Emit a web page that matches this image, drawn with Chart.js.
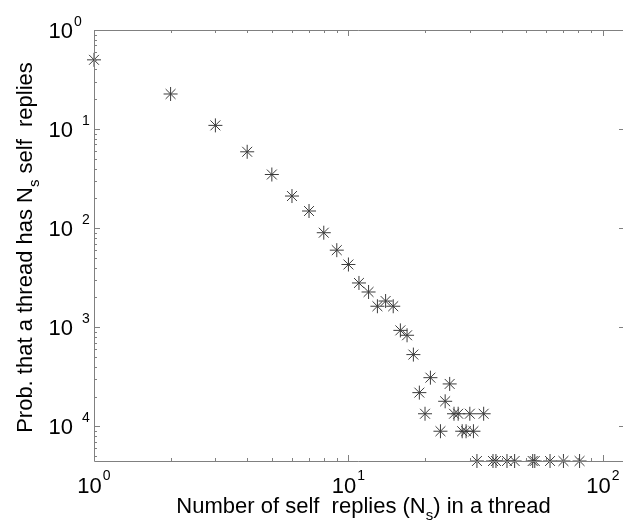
<!DOCTYPE html>
<html>
<head>
<meta charset="utf-8">
<script src="https://cdn.jsdelivr.net/npm/chart.js@4/dist/chart.umd.min.js"></script>
<style>
    body { margin: 0; background: #fff; }
    canvas { display: block; }
</style>
</head>
<body>
<canvas id="selfReplyChart" width="631" height="521"></canvas>
<script>
// values
const selfReplies = [1, 2, 3, 4, 5, 6, 7, 8, 9, 10, 11, 12, 13, 14, 15, 16, 17, 18, 19, 20, 21,
    23, 24, 25, 26, 27, 28, 29, 30, 31, 32, 34, 37, 38, 42, 45, 53, 54, 62, 70, 81];
const probability = [0.5, 0.226, 0.109, 0.059, 0.0348, 0.0211, 0.0149, 0.0090, 0.0060, 0.0043,
    0.0028, 0.00227, 0.00163, 0.00184, 0.00163, 0.00093, 0.00083, 0.00053, 0.000219, 0.000134,
    0.00031, 0.0000893, 0.000179, 0.000268, 0.000134, 0.000134, 0.0000893, 0.0000893, 0.000134,
    0.0000893, 0.0000447, 0.000134, 0.0000447, 0.0000447, 0.0000447, 0.0000447, 0.0000447,
    0.0000447, 0.0000447, 0.0000447, 0.0000447];

const xTickValues = [1, 10, 100];
const xTickExponents = ['0', '1', '2'];
const yTickValues = [1, 0.1, 0.01, 0.001, 0.0001];
// the minus signs are missing in the original figure, only the digit shows
const yTickExponents = ['0', '1', '2', '3', '4'];

const xTitle = [['Number of self  replies (N', false], ['s', true], [') in a thread', false]];
const yTitle = [['Prob. that a thread has N', false], ['s', true], [' self  replies', false]];

const FONT = "'Liberation Sans', Arial, Helvetica, sans-serif";
const AXIS_COLOR = '#808080';

function logMinorValues(min, max) {
    const out = [];
    for (let d = Math.floor(Math.log10(min)); d <= Math.ceil(Math.log10(max)); d++) {
        for (let m = 1; m <= 9; m++) {
            const v = m * Math.pow(10, d);
            if (v >= min * 0.9999 && v <= max * 1.0001) out.push({ v: v, major: m === 1 });
        }
    }
    return out;
}

function drawParts(ctx, parts, x0, y0) {
    let x = x0;
    parts.forEach(p => {
        ctx.font = p[1] ? '15px ' + FONT : '22px ' + FONT;
        ctx.fillText(p[0], x, p[1] ? y0 + 7 : y0);
        x += ctx.measureText(p[0]).width;
    });
}

function partsWidth(ctx, parts) {
    let w = 0;
    parts.forEach(p => {
        ctx.font = p[1] ? '15px ' + FONT : '22px ' + FONT;
        w += ctx.measureText(p[0]).width;
    });
    return w;
}

const matlabAxes = {
    id: 'matlabAxes',
    afterDraw(chart) {
        const ctx = chart.ctx;
        const area = chart.chartArea;
        const xs = chart.scales.x;
        const ys = chart.scales.y;
        ctx.save();

        // box (left, bottom, top)
        ctx.strokeStyle = AXIS_COLOR;
        ctx.lineWidth = 1;
        ctx.beginPath();
        ctx.moveTo(area.left + 0.5, area.top + 0.5);
        ctx.lineTo(area.left + 0.5, area.bottom + 0.5);
        ctx.lineTo(area.right, area.bottom + 0.5);
        ctx.moveTo(area.left + 0.5, area.top + 0.5);
        ctx.lineTo(area.right, area.top + 0.5);
        ctx.stroke();

        // inward ticks
        ctx.beginPath();
        logMinorValues(xs.min, xs.max).forEach(t => {
            const px = Math.round(xs.getPixelForValue(t.v)) + 0.5;
            const len = t.major ? 6 : 3;
            ctx.moveTo(px, area.bottom);
            ctx.lineTo(px, area.bottom - len);
            ctx.moveTo(px, area.top);
            ctx.lineTo(px, area.top + len);
        });
        logMinorValues(ys.min, ys.max).forEach(t => {
            const py = Math.round(ys.getPixelForValue(t.v)) + 0.5;
            const len = t.major ? 6 : 3;
            ctx.moveTo(area.left, py);
            ctx.lineTo(area.left + len, py);
            if (t.major) {
                ctx.moveTo(area.right, py);
                ctx.lineTo(area.right - 4, py);
            }
        });
        ctx.stroke();

        // tick labels
        ctx.fillStyle = '#000';
        ctx.textBaseline = 'alphabetic';
        ctx.textAlign = 'left';
        xTickValues.forEach((v, i) => {
            const px = xs.getPixelForValue(v);
            ctx.font = '22px ' + FONT;
            const wBase = ctx.measureText('10').width;
            ctx.font = '14px ' + FONT;
            const wSup = ctx.measureText(xTickExponents[i]).width;
            const x0 = px - (wBase + 1 + wSup) / 2;
            ctx.font = '22px ' + FONT;
            ctx.fillText('10', x0, area.bottom + 32);
            ctx.font = '14px ' + FONT;
            ctx.fillText(xTickExponents[i], x0 + wBase + 1, area.bottom + 19);
        });
        yTickValues.forEach((v, i) => {
            const py = ys.getPixelForValue(v);
            ctx.font = '22px ' + FONT;
            ctx.textAlign = 'right';
            ctx.fillText('10', 73, py + 8);
            ctx.textAlign = 'left';
            ctx.font = '14px ' + FONT;
            ctx.fillText(yTickExponents[i], i === 0 ? 74 : 82, py - 4);
        });

        // axis titles
        ctx.textAlign = 'left';
        const cx = (area.left + area.right) / 2 + 5;
        drawParts(ctx, xTitle, cx - partsWidth(ctx, xTitle) / 2, 513);

        const cy = (area.top + area.bottom) / 2 + 2;
        ctx.translate(32, cy);
        ctx.rotate(-Math.PI / 2);
        drawParts(ctx, yTitle, -partsWidth(ctx, yTitle) / 2, 0);

        ctx.restore();
    }
};

const points = selfReplies.map((n, i) => ({ x: n, y: probability[i] }));

new Chart(document.getElementById('selfReplyChart'), {
    type: 'scatter',
    data: {
        datasets: [{
            label: 'P(Ns)',
            data: points,
            pointStyle: 'star',
            pointRadius: 7,
            borderColor: '#3c3c3c',
            backgroundColor: '#3c3c3c',
            borderWidth: 1,
            clip: false
        }]
    },
    options: {
        responsive: false,
        animation: false,
        layout: { padding: { left: 94, right: 1, top: 30, bottom: 60 } },
        plugins: {
            legend: { display: false },
            tooltip: { enabled: false }
        },
        scales: {
            x: {
                type: 'logarithmic',
                display: false,
                min: 1,
                max: 120
            },
            y: {
                type: 'logarithmic',
                display: false,
                min: Math.min(...probability),
                max: 1
            }
        }
    },
    plugins: [matlabAxes]
});
</script>
</body>
</html>
